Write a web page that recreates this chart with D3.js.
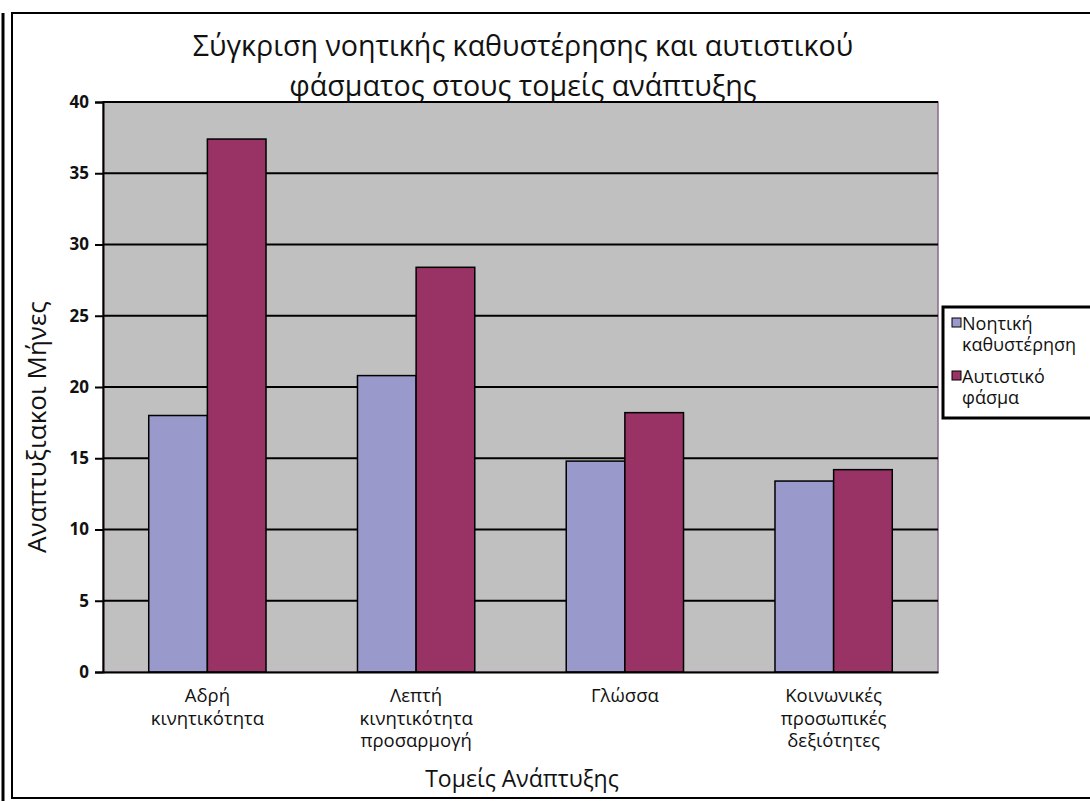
<!DOCTYPE html>
<html>
<head>
<meta charset="utf-8">
<script src="https://cdn.jsdelivr.net/npm/d3@7"></script>
<style>
  body { margin: 0; background: #fff; overflow: hidden; }
  svg { display: block; }
  text { font-family: "Open Sans", "Noto Sans", sans-serif; fill: #111; }
</style>
</head>
<body>
<div id="chart"></div>
<script>
// data
const categories = [["Αδρή", "κινητικότητα"], ["Λεπτή", "κινητικότητα", "προσαρμογή"], ["Γλώσσα"], ["Κοινωνικές", "προσωπικές", "δεξιότητες"]];
const seriesNames = [["Νοητική", "καθυστέρηση"], ["Αυτιστικό", "φάσμα"]];
const retardation = [18, 20.8, 14.8, 13.4];
const autism = [37.4, 28.4, 18.2, 14.2];
const yTicks = [0, 5, 10, 15, 20, 25, 30, 35, 40];
const colors = ["#9999cc", "#993366"];

const width = 1090, height = 801;
const margin = {top: 102, right: 152, bottom: 129, left: 103};
const innerWidth = width - margin.left - margin.right,
      innerHeight = height - margin.top - margin.bottom;

const svg = d3.select("#chart").append("svg")
  .attr("width", width).attr("height", height);

// outer frame
svg.append("rect")
  .attr("x", 12).attr("y", 13).attr("width", 1090).attr("height", 785)
  .attr("fill", "none").attr("stroke", "#000").attr("stroke-width", 2);
svg.append("line").attr("x1", 3).attr("x2", 3).attr("y1", 13).attr("y2", 801)
  .attr("stroke", "#000").attr("stroke-width", 3);

const g = svg.append("g")
  .attr("transform", "translate(" + margin.left + "," + margin.top + ")");

const xScale = d3.scaleBand().domain(d3.range(categories.length)).range([0, innerWidth]);
const xInner = d3.scaleBand().domain([0, 1]).range([0, xScale.bandwidth()]).paddingOuter(0.78).paddingInner(0);
const yScale = d3.scaleLinear().domain([0, 40]).range([innerHeight, 0]);

// plot area
g.append("rect").attr("width", innerWidth).attr("height", innerHeight)
  .attr("fill", "#c0c0c0").attr("stroke", "#8a6a8a").attr("stroke-width", 1.5);

// gridlines
g.selectAll(".grid").data(yTicks.slice(1)).enter().append("line")
  .attr("x1", 0).attr("x2", innerWidth)
  .attr("y1", d => yScale(d)).attr("y2", d => yScale(d))
  .attr("stroke", "#000").attr("stroke-width", 2);

// bars
const series = [retardation, autism];
series.forEach(function(vals, s) {
  g.selectAll(".bar" + s).data(vals).enter().append("rect")
    .attr("x", (d, i) => xScale(i) + xInner(s))
    .attr("y", d => yScale(d))
    .attr("width", xInner.bandwidth())
    .attr("height", d => innerHeight - yScale(d))
    .attr("fill", colors[s])
    .attr("stroke", "#000").attr("stroke-width", 1.5);
});

// y axis
const yAxis = g.append("g").call(d3.axisLeft(yScale).tickValues(yTicks).tickSize(8).tickPadding(6));
yAxis.selectAll("path, line").attr("stroke", "#000").attr("stroke-width", 2);
yAxis.selectAll("text").style("font-size", "17px").style("font-weight", "bold")
  .style("font-family", "'Open Sans', sans-serif");

// x axis
const xAxis = g.append("g").attr("transform", "translate(0," + innerHeight + ")")
  .call(d3.axisBottom(xScale).tickSize(0).tickFormat(""));
xAxis.select("path").attr("stroke", "#000").attr("stroke-width", 2);

g.selectAll(".xlab").data(categories).enter().append("text")
  .attr("x", (d, i) => xScale(i) + xScale.bandwidth() / 2)
  .attr("y", innerHeight + 30)
  .attr("text-anchor", "middle")
  .style("font-size", "18.5px")
  .each(function(d) {
    d3.select(this).selectAll("tspan").data(d).enter().append("tspan")
      .attr("x", d3.select(this).attr("x"))
      .attr("dy", (t, j) => j === 0 ? 0 : 22.5)
      .text(t => t);
  });

// title
const title = svg.append("text").attr("text-anchor", "middle").style("font-size", "28.6px");
title.append("tspan").attr("x", 523).attr("y", 56).text("Σύγκριση νοητικής καθυστέρησης και αυτιστικού");
title.append("tspan").attr("x", 523).attr("y", 96).text("φάσματος στους τομείς ανάπτυξης");

// axis titles
svg.append("text").attr("text-anchor", "middle").style("font-size", "26px")
  .attr("transform", "translate(46," + 427 + ") rotate(-90)")
  .text("Αναπτυξιακοι Μήνες");
svg.append("text").attr("text-anchor", "middle").style("font-size", "23px")
  .attr("x", 522).attr("y", 787).text("Τομείς Ανάπτυξης");

// legend
const legend = svg.append("g").attr("transform", "translate(943,307)");
legend.append("rect").attr("width", 160).attr("height", 111)
  .attr("fill", "#fff").attr("stroke", "#000").attr("stroke-width", 3);
seriesNames.forEach(function(name, s) {
  const yy = 23 + s * 53;
  legend.append("rect").attr("x", 9).attr("y", yy - 12).attr("width", 9).attr("height", 9)
    .attr("fill", colors[s]).attr("stroke", "#000").attr("stroke-width", 1);
  legend.append("text").attr("x", 19).attr("y", yy).style("font-size", "18px").text(name[0]);
  legend.append("text").attr("x", 19).attr("y", yy + 21).style("font-size", "18px").text(name[1]);
});
</script>
</body>
</html>
